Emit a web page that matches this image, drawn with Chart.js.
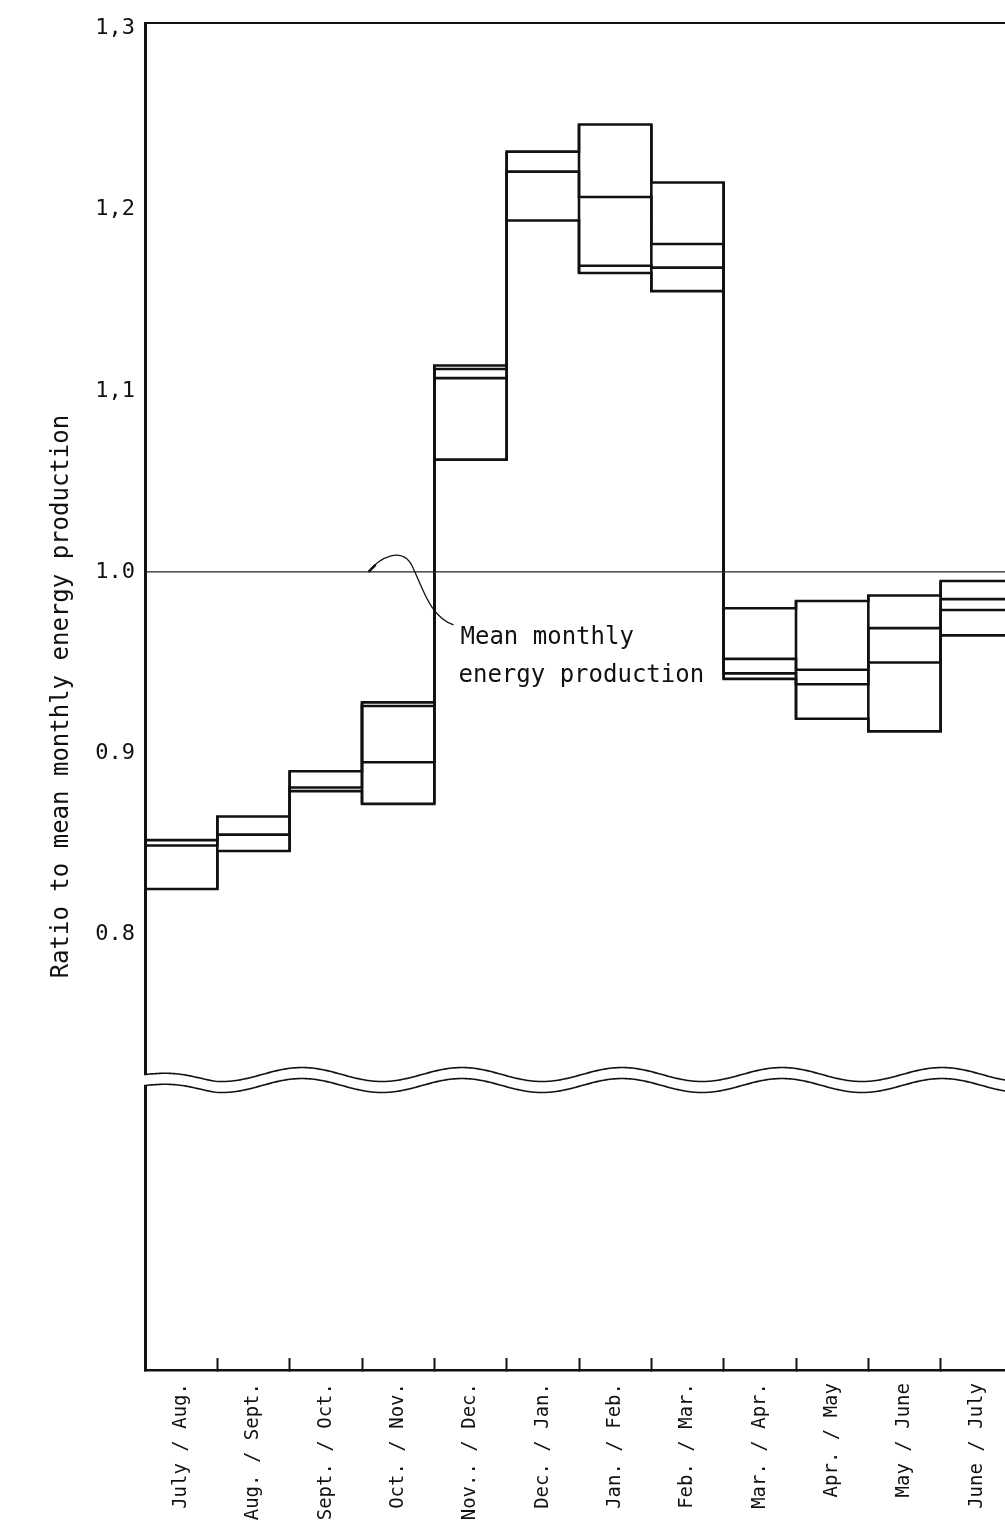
<!DOCTYPE html>
<html>
<head>
<meta charset="utf-8">
<script src="https://cdn.jsdelivr.net/npm/chart.js@4.4.1/dist/chart.umd.min.js"></script>
<style>
  html, body { margin: 0; padding: 0; background: #fff; overflow: hidden; }
  #wrap { width: 1005px; height: 1523px; overflow: hidden; }
  canvas { display: block; }
</style>
</head>
<body>
<div id="wrap"><canvas id="chart" width="1016" height="1523"></canvas></div>
<script>
// --- values (ratio to mean monthly production) ---
const categories = ["July / Aug.", "Aug. / Sept.", "Sept. / Oct.", "Oct. / Nov.", "Nov.. / Dec.", "Dec. / Jan.",
  "Jan. / Feb.", "Feb. / Mar.", "Mar. / Apr.", "Apr. / May", "May / June", "June / July"];
const upper = [0.852, 0.865, 0.890, 0.928, 1.114, 1.232, 1.247, 1.215, 0.980, 0.984, 0.987, 0.995];
const lineA = [0.849, 0.855, 0.881, 0.926, 1.112, 1.221, 1.207, 1.181, 0.952, 0.946, 0.969, 0.985];
const lineB = [null, null, null, 0.895, 1.107, null, 1.169, 1.168, 0.944, 0.938, 0.950, 0.979];
const lower = [0.825, 0.846, 0.879, 0.872, 1.062, 1.194, 1.165, 1.155, 0.941, 0.919, 0.912, 0.965];
const meanLevel = 1.0;
const yTicks = [0.8, 0.9, 1.0, 1.1, 1.2, 1.3];
const yTickLabels = ["0.8", "0.9", "1.0", "1,1", "1,2", "1,3"];
const noteLines = ["Mean monthly", "energy production"];

// axis range / break position (layout only)
const Y_MIN = 0.5595, Y_MAX = 1.3029;
const BREAK_AT = 0.7226;
const NOTE_X = 3.09;

const INK = "#111";
Chart.defaults.font.family = "'DejaVu Sans Mono', monospace";
Chart.defaults.color = INK;

// each level is a step line: flat across its month pair, vertical jump at the boundary
function stepPoints(vals) {
  const pts = [];
  vals.forEach((v, i) => {
    if (v === null) { pts.push({ x: i + 0.5, y: null }); return; }
    pts.push({ x: i, y: v }, { x: i + 1, y: v });
  });
  return pts;
}
// left and right sides of every box
function sidePoints() {
  const pts = [];
  categories.forEach((c, i) => {
    [i, i + 1].forEach(x => pts.push({ x: x, y: lower[i] }, { x: x, y: upper[i] }, { x: x, y: null }));
  });
  return pts;
}

const lineStyle = { type: "line", borderColor: INK, borderWidth: 2.6, pointRadius: 0, tension: 0, spanGaps: false, fill: false };

const breakPlugin = {
  id: "axisBreak",
  afterDraw(chart) {
    const { ctx, chartArea } = chart;
    const y0 = chart.scales.y.getPixelForValue(BREAK_AT);
    const left = chartArea.left, right = chart.width;
    const wave = x => {
      const ramp = Math.min(1, Math.max(0, (x - left) / 70));
      return ramp * 7 * Math.cos(2 * Math.PI * (x - 222) / 160);
    };
    ctx.save();
    ctx.beginPath();
    for (let x = left - 4; x <= right; x += 2) ctx.lineTo(x, y0 + wave(x));
    for (let x = right; x >= left - 4; x -= 2) ctx.lineTo(x, y0 + 11 + wave(x));
    ctx.closePath();
    ctx.fillStyle = "#fff";
    ctx.fill();
    ctx.strokeStyle = INK;
    ctx.lineWidth = 1.6;
    [0, 11].forEach(off => {
      ctx.beginPath();
      for (let x = left - 1; x <= right; x += 2) ctx.lineTo(x, y0 + off + wave(x));
      ctx.stroke();
    });
    ctx.restore();
  }
};

const notePlugin = {
  id: "meanNote",
  afterDatasetsDraw(chart) {
    const { ctx } = chart;
    const sx = chart.scales.x.getPixelForValue(NOTE_X);
    const sy = chart.scales.y.getPixelForValue(meanLevel);
    ctx.save();
    ctx.strokeStyle = INK;
    ctx.lineWidth = 2.4;
    ctx.beginPath();
    ctx.moveTo(sx, sy);
    ctx.lineTo(sx + 7, sy - 7);
    ctx.stroke();
    ctx.lineWidth = 1.3;
    ctx.beginPath();
    ctx.moveTo(sx, sy);
    ctx.bezierCurveTo(sx + 10, sy - 14, sx + 35, sy - 28, sx + 45, sy - 3);
    ctx.bezierCurveTo(sx + 55, sy + 18, sx + 62, sy + 45, sx + 85, sy + 53);
    ctx.stroke();
    ctx.fillStyle = INK;
    ctx.font = "24px 'DejaVu Sans Mono', monospace";
    ctx.textBaseline = "alphabetic";
    ctx.fillText(noteLines[0], sx + 92, sy + 72);
    ctx.fillText(noteLines[1], sx + 90, sy + 110);
    ctx.restore();
  }
};

new Chart(document.getElementById("chart"), {
  data: {
    datasets: [
      { ...lineStyle, label: "mean", data: [{ x: 0, y: meanLevel }, { x: 12, y: meanLevel }], borderWidth: 1.3, borderColor: "#222" },
      { ...lineStyle, label: "sides", data: sidePoints() },
      { ...lineStyle, label: "upper", data: stepPoints(upper) },
      { ...lineStyle, label: "lineA", data: stepPoints(lineA) },
      { ...lineStyle, label: "lineB", data: stepPoints(lineB) },
      { ...lineStyle, label: "lower", data: stepPoints(lower) }
    ]
  },
  options: {
    responsive: false,
    animation: false,
    layout: { padding: { top: 20, left: 0, right: 3, bottom: 0 } },
    plugins: { legend: { display: false }, tooltip: { enabled: false } },
    scales: {
      x: {
        type: "linear", position: "bottom", min: 0, max: 12,
        afterBuildTicks: s => { s.ticks = []; for (let v = 0; v <= 24; v++) s.ticks.push({ value: v / 2 }); },
        afterFit: s => { s.height = 153; s.paddingLeft = 0; s.paddingRight = 0; },
        ticks: {
          autoSkip: false, minRotation: 90, maxRotation: 90, padding: 25,
          font: { size: 19 },
          callback: v => (v % 1 === 0.5 ? categories[v - 0.5] : "")
        },
        grid: {
          display: true, drawOnChartArea: false, drawTicks: true, tickLength: -12, tickWidth: 2,
          tickColor: c => (c.tick && c.tick.value % 1 === 0 ? INK : "rgba(0,0,0,0)")
        },
        border: { display: true, width: 2.5, color: INK }
      },
      x2: {
        type: "linear", position: "top", min: 0, max: 12,
        afterFit: s => { s.paddingLeft = 0; s.paddingRight = 0; },
        ticks: { display: false },
        grid: { display: false, drawTicks: false },
        border: { display: true, width: 2, color: INK }
      },
      y: {
        type: "linear", min: Y_MIN, max: Y_MAX,
        afterBuildTicks: s => { s.ticks = yTicks.map(v => ({ value: v })); },
        afterFit: s => { s.width = 145; },
        ticks: { font: { size: 22 }, padding: 10, callback: (v, i) => yTickLabels[i] },
        grid: { display: false, drawTicks: false },
        border: { display: true, width: 3, color: INK },
        title: {
          display: true, text: "Ratio to mean monthly energy production",
          font: { size: 24 }, padding: { top: 47, bottom: 0 }
        }
      }
    }
  },
  plugins: [notePlugin, breakPlugin]
});
</script>
</body>
</html>
